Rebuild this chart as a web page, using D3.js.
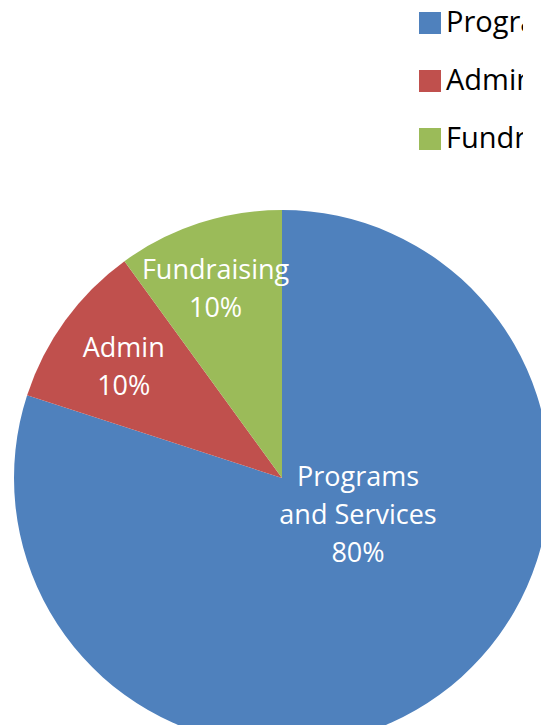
<!DOCTYPE html>
<html>
<head>
<meta charset="utf-8">
<script src="https://cdn.jsdelivr.net/npm/d3@7"></script>
<style>
  html, body { margin: 0; padding: 0; background: #fff; overflow: hidden; }
  svg { display: block; }
</style>
</head>
<body>
<div id="chart"></div>
<script>
// data
const categories = ["Programs and Services", "Admin", "Fundraising"];
const values = [80, 10, 10];
const labelLines = [["Programs", "and Services"], ["Admin"], ["Fundraising"]];
const legendNames = ["Programs and Services", "Admin", "Fundraising"];

const width = 541, height = 725;
const cx = 282, cy = 478, radius = 268;

const svg = d3.select("#chart")
  .append("svg")
  .attr("width", width)
  .attr("height", height);

const color = d3.scaleOrdinal()
  .domain(categories)
  .range(["#4f81bd", "#c0504d", "#9bbb59"]);

const rows = categories.map((c, i) => ({cat: c, value: values[i], lines: labelLines[i]}));
const total = d3.sum(values);

const pie = d3.pie().sort(null).value(d => d.value);
const arcs = pie(rows);
const arc = d3.arc().innerRadius(0).outerRadius(radius);

const g = svg.append("g").attr("transform", `translate(${cx},${cy})`);

g.selectAll("path")
  .data(arcs)
  .join("path")
    .attr("d", arc)
    .attr("fill", d => color(d.data.cat));

// labels: small slices sit at ~0.73r (small nudges like excel), big one pulled in
const labelArc = d3.arc().innerRadius(radius * 0.73).outerRadius(radius * 0.73);
const nudge = [[0, 0], [0, 4], [-6, -3]];
const fmt = d3.format(".0%");
const lineH = 38;

const labels = g.selectAll("text.lbl")
  .data(arcs)
  .join("text")
    .attr("class", "lbl")
    .attr("text-anchor", "middle")
    .attr("fill", "#fff")
    .style("font-family", "'Open Sans', sans-serif")
    .style("font-size", "27px")
    .attr("transform", (d, i) => {
      let [x, y] = labelArc.centroid(d);
      if (d.data.value / total > 0.5) { x = 76; y = 37; }
      return `translate(${x + nudge[i][0]},${y + nudge[i][1]})`;
    });

labels.each(function(d) {
  const t = d3.select(this);
  const lines = d.data.lines.concat(fmt(d.data.value / total));
  const y0 = -((lines.length - 1) * lineH) / 2 + 9;
  lines.forEach((s, i) => {
    t.append("tspan").attr("x", 0).attr("y", y0 + i * lineH).text(s);
  });
});

// legend, cut off by the chart area like the original
svg.append("clipPath").attr("id", "legclip")
  .append("rect").attr("x", 0).attr("y", 0).attr("width", 523).attr("height", height);

const legend = svg.append("g")
  .attr("clip-path", "url(#legclip)")
  .append("g")
  .attr("transform", "translate(419,12)");

const item = legend.selectAll("g")
  .data(legendNames)
  .join("g")
    .attr("transform", (d, i) => `translate(0,${i * 58})`);

item.append("rect")
  .attr("width", 22)
  .attr("height", 22)
  .attr("fill", d => color(d));

item.append("text")
  .attr("x", 27)
  .attr("y", 20)
  .attr("fill", "#000")
  .style("font-family", "'Open Sans', sans-serif")
  .style("font-size", "29px")
  .text(d => d);
</script>
</body>
</html>
